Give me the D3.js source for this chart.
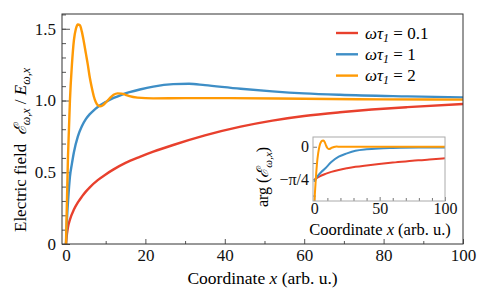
<!DOCTYPE html>
<html>
<head>
<meta charset="utf-8">
<script src="https://cdn.jsdelivr.net/npm/d3@7"></script>
<style>
  body { margin: 0; background: #fff; }
</style>
</head>
<body>
<div id="chart"></div>
<script>
// main panel: |E| normalised, x coordinate
const redX = [0, 0.25, 0.5, 1, 2, 3, 4, 5, 6, 8, 10, 12, 15, 18.6, 22, 27, 35, 44, 52, 60, 69, 77, 86, 100];
const redY = [0, 0.07, 0.115, 0.17, 0.24, 0.29, 0.33, 0.365, 0.395, 0.445, 0.485, 0.52, 0.565, 0.607, 0.643, 0.69, 0.757, 0.818, 0.86, 0.892, 0.918, 0.937, 0.954, 0.976];

const blueX = [0, 0.3, 0.6, 1, 1.5, 2, 3, 4, 5, 6, 7, 8, 10, 12, 14, 16, 18.6, 22, 27, 31, 35, 44, 52, 60, 69, 86, 100];
const blueY = [0, 0.2, 0.33, 0.47, 0.56, 0.64, 0.75, 0.82, 0.87, 0.905, 0.932, 0.955, 0.99, 1.018, 1.04, 1.058, 1.077, 1.097, 1.114, 1.117, 1.107, 1.082, 1.064, 1.05, 1.04, 1.029, 1.022];

const orangeX = [0, 0.25, 0.5, 0.75, 1, 1.5, 2, 2.5, 3, 3.5, 4, 4.5, 5, 5.5, 6, 6.5, 7, 7.5, 8, 8.6, 9.2, 10, 11, 12, 13, 14, 15, 16, 18, 22, 30, 40, 60, 80, 100];
const orangeY = [0, 0.3, 0.6, 0.8, 1.0, 1.25, 1.42, 1.5, 1.53, 1.525, 1.48, 1.41, 1.33, 1.25, 1.16, 1.09, 1.03, 0.99, 0.968, 0.96, 0.965, 0.985, 1.015, 1.04, 1.05, 1.048, 1.04, 1.03, 1.02, 1.015, 1.017, 1.017, 1.012, 1.008, 1.006];

// inset: phase arg(E)
const argRedX = [0, 2, 5, 8.5, 13, 18.7, 25, 31.5, 40, 49.5, 60, 75, 88, 100];
const argRedY = [-0.8, -0.75, -0.7, -0.655, -0.607, -0.56, -0.52, -0.485, -0.45, -0.415, -0.38, -0.34, -0.305, -0.28];

const argBlueX = [0, 1, 2, 3, 5, 8.5, 13, 18.7, 25, 31.5, 40, 49.5, 60, 80, 100];
const argBlueY = [-0.85, -0.78, -0.73, -0.69, -0.62, -0.52, -0.37, -0.24, -0.16, -0.096, -0.06, -0.04, -0.03, -0.02, -0.02];

const argOrangeX = [0, 0.5, 1, 1.5, 2, 3, 4, 5, 6, 7, 8, 9, 10, 11, 12, 13, 15, 17, 20, 100];
const argOrangeY = [-1.35, -1.1, -0.85, -0.62, -0.42, -0.15, 0.02, 0.11, 0.145, 0.15, 0.11, 0.03, -0.03, -0.055, -0.05, -0.03, -0.005, 0.005, 0, 0];

const legendLabels = ["0.1", "1", "2"];
const colors = ["#e8402d", "#3e8ec6", "#ff9a05"];

const serif = "Liberation Serif";

const mainSeries = [
  { label: legendLabels[0], color: colors[0], pts: d3.zip(redX, redY) },
  { label: legendLabels[1], color: colors[1], pts: d3.zip(blueX, blueY) },
  { label: legendLabels[2], color: colors[2], pts: d3.zip(orangeX, orangeY) },
];
const insetSeries = [
  { color: colors[0], pts: d3.zip(argRedX, argRedY) },
  { color: colors[1], pts: d3.zip(argBlueX, argBlueY) },
  { color: colors[2], pts: d3.zip(argOrangeX, argOrangeY) },
];

const width = 486;
const height = 292;
const m = { left: 62, right: 463, top: 14, bottom: 244 };

const x = d3.scaleLinear().domain([-1, 100]).range([m.left, m.right]);
const y = d3.scaleLinear().domain([0, 1.603]).range([m.bottom, m.top]);

const svg = d3
  .create("svg")
  .attr("width", width)
  .attr("height", height)
  .attr("viewBox", [0, 0, width, height])
  .attr("font-family", serif);

svg.append("defs").append("clipPath").attr("id", "clipMain")
  .append("rect")
  .attr("x", m.left).attr("y", m.top)
  .attr("width", m.right - m.left).attr("height", m.bottom - m.top);

const line = (sx, sy) => d3.line()
  .x((d) => sx(d[0]))
  .y((d) => sy(d[1]))
  .curve(d3.curveMonotoneX);

// minor ticks
svg.append("g")
  .attr("transform", `translate(0,${m.bottom})`)
  .call(d3.axisBottom(x).tickValues(d3.range(10, 100, 20)).tickSize(-3).tickFormat(""))
  .call((g) => g.select(".domain").remove());
svg.append("g")
  .attr("transform", `translate(${m.left},0)`)
  .call(d3.axisLeft(y).tickValues(d3.range(0, 1.61, 0.1)).tickSize(-4).tickFormat(""))
  .call((g) => g.select(".domain").remove());

// major ticks
svg.append("g")
  .attr("transform", `translate(0,${m.bottom})`)
  .call(d3.axisBottom(x).tickValues([0, 20, 40, 60, 80, 100]).tickSize(-5).tickPadding(5))
  .call((g) => g.select(".domain").remove());
svg.append("g")
  .attr("transform", `translate(${m.left},0)`)
  .call(d3.axisLeft(y).tickValues([0, 0.5, 1.0, 1.5]).tickSize(-8).tickPadding(6)
    .tickFormat((d) => (d === 0 ? "0" : d3.format(".1f")(d))))
  .call((g) => g.select(".domain").remove());

svg.selectAll("g").attr("font-family", serif);
svg.selectAll(".tick line").attr("stroke", "#555");
svg.selectAll(".tick text").attr("font-size", 17).attr("fill", "#111").style("font-family", serif);

svg.append("g")
  .attr("clip-path", "url(#clipMain)")
  .selectAll("path")
  .data(mainSeries)
  .join("path")
  .attr("fill", "none")
  .attr("stroke", (d) => d.color)
  .attr("stroke-width", 2.4)
  .attr("d", (d) => line(x, y)(d.pts));

svg.append("rect")
  .attr("x", m.left).attr("y", m.top)
  .attr("width", m.right - m.left).attr("height", m.bottom - m.top)
  .attr("fill", "none").attr("stroke", "#333").attr("stroke-width", 1);

// axis labels
svg.append("text")
  .attr("x", (m.left + m.right) / 2)
  .attr("y", 284)
  .attr("text-anchor", "middle")
  .attr("font-size", 17.5)
  .style("font-family", serif)
  .html('Coordinate <tspan font-style="italic">x</tspan> (arb. u.)');

svg.append("text")
  .attr("transform", "translate(26,150) rotate(-90)")
  .attr("text-anchor", "middle")
  .attr("font-size", 17)
  .style("font-family", serif)
  .html('Electric field&#160; <tspan font-style="italic">ℰ</tspan><tspan font-style="italic" font-size="12" dy="4">ω,x</tspan><tspan dy="-4"> / </tspan><tspan font-style="italic">E</tspan><tspan font-style="italic" font-size="12" dy="4">ω,x</tspan>');

// legend
const legend = svg.append("g")
  .selectAll("g")
  .data(mainSeries)
  .join("g")
  .attr("transform", (d, i) => `translate(336,${33 + i * 21.3})`);
legend.append("line")
  .attr("x1", 0).attr("x2", 22)
  .attr("stroke", (d) => d.color)
  .attr("stroke-width", 2.4);
legend.append("text")
  .attr("x", 29)
  .attr("y", 5.5)
  .attr("font-size", 17)
  .style("font-family", serif)
  .html((d) => `<tspan font-style="italic">ωτ</tspan><tspan font-style="italic" font-size="12" dy="3">1</tspan><tspan dy="-3"> = ${d.label}</tspan>`);

// inset
const im = { left: 313, right: 445, top: 137, bottom: 201 };
const ix = d3.scaleLinear().domain([-1, 100]).range([im.left, im.right]);
const iy = d3.scaleLinear().domain([-5 * Math.PI / 12, 0.235]).range([im.bottom, im.top]);

svg.append("defs").append("clipPath").attr("id", "clipInset")
  .append("rect")
  .attr("x", im.left).attr("y", im.top)
  .attr("width", im.right - im.left).attr("height", im.bottom - im.top);

svg.append("rect")
  .attr("x", im.left).attr("y", im.top)
  .attr("width", im.right - im.left).attr("height", im.bottom - im.top)
  .attr("fill", "#fff");

const inset = svg.append("g");
inset.append("g")
  .attr("transform", `translate(0,${im.bottom})`)
  .call(d3.axisBottom(ix).tickValues(d3.range(10, 100, 10).filter((v) => v !== 50)).tickSize(-3).tickFormat(""))
  .call((g) => g.select(".domain").remove());
inset.append("g")
  .attr("transform", `translate(0,${im.bottom})`)
  .call(d3.axisBottom(ix).tickValues([0, 50, 100]).tickSize(-4).tickPadding(2))
  .call((g) => g.select(".domain").remove());
inset.append("g")
  .attr("transform", `translate(${im.left},0)`)
  .call(d3.axisLeft(iy).tickValues([-Math.PI / 8, -3 * Math.PI / 8]).tickSize(-3).tickFormat(""))
  .call((g) => g.select(".domain").remove());
inset.append("g")
  .attr("transform", `translate(${im.left},0)`)
  .call(d3.axisLeft(iy).tickValues([0, -Math.PI / 4]).tickSize(-4).tickPadding(4)
    .tickFormat((d) => (d === 0 ? "0" : "−π/4")))
  .call((g) => g.select(".domain").remove());
inset.selectAll("g").attr("font-family", serif);
inset.selectAll(".tick line").attr("stroke", "#777");
inset.selectAll(".tick text").attr("font-size", 16).attr("fill", "#111").style("font-family", serif);

inset.append("g")
  .attr("clip-path", "url(#clipInset)")
  .selectAll("path")
  .data(insetSeries)
  .join("path")
  .attr("fill", "none")
  .attr("stroke", (d) => d.color)
  .attr("stroke-width", 2)
  .attr("d", (d) => line(ix, iy)(d.pts));

inset.append("rect")
  .attr("x", im.left).attr("y", im.top)
  .attr("width", im.right - im.left).attr("height", im.bottom - im.top)
  .attr("fill", "none").attr("stroke", "#aaa").attr("stroke-width", 1);

inset.append("text")
  .attr("x", 380)
  .attr("y", 235)
  .attr("text-anchor", "middle")
  .attr("font-size", 16.5)
  .style("font-family", serif)
  .html('Coordinate <tspan font-style="italic">x</tspan> (arb. u.)');

inset.append("text")
  .attr("transform", "translate(268,177) rotate(-90)")
  .attr("text-anchor", "middle")
  .attr("font-size", 16)
  .style("font-family", serif)
  .html('arg (<tspan font-style="italic">ℰ</tspan><tspan font-style="italic" font-size="11" dy="4">ω,x</tspan><tspan dy="-4">)</tspan>');

document.getElementById("chart").append(svg.node());
</script>
</body>
</html>
